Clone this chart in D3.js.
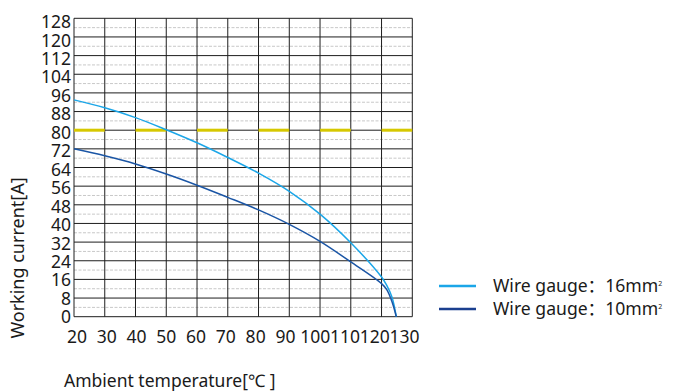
<!DOCTYPE html>
<html><head><meta charset="utf-8">
<script src="https://cdn.jsdelivr.net/npm/d3@7"></script>
<style>
html,body{margin:0;padding:0;background:#fff;}
text{font-family:"Noto Sans","Noto Sans CJK SC",sans-serif;fill:#1a1a1a;}
</style></head>
<body><svg id="c" width="675" height="391"></svg>
<script>
const xTicks = [20,30,40,50,60,70,80,90,100,110,120,130];
const yTicks = [0,8,16,24,32,40,48,56,64,72,80,88,96,104,112,120,128];
const yMinor = [4,12,20,28,36,44,52,60,68,76,84,92,100,108,116,124];
const temp16 = [20,30,40,50,60,70,80,90,100,110,120,121.7,123.4,124.8];
const amp16  = [93,89.6,85.4,80.2,74.6,68.3,61.6,53.8,44,31.7,17,13.4,8.4,0];
const temp10 = [20,30,40,50,60,70,80,90,100,110,120,121.7,123.4,124.8];
const amp10  = [72,69,65.5,61.2,56.4,51.2,45.8,39.6,32.3,23.5,14.2,11.6,6.4,0];
const limitValue = 80;
const limitStarts = [20,40,60,80,100,120];
const limitSpan = 10;
const seriesNames = ["Wire gauge：16mm", "Wire gauge：10mm"];
const xTitle = "Ambient temperature[℃ ]";
const yTitle = "Working current[A]";

const svg = d3.select("#c");
const x = d3.scaleLinear().domain([20,130]).range([74,412.3]);
const y = d3.scaleLinear().domain([0,128]).range([316.7,18.3]);
const xLab = d3.scaleLinear().domain([20,130]).range([76.5,404]);
const yLab = d3.scaleLinear().domain([0,128]).range([316.7,21.5]);

// minor dashed grid
svg.append("g").selectAll("line").data(yMinor).join("line")
  .attr("x1",x(20)).attr("x2",x(130)).attr("y1",d=>y(d)).attr("y2",d=>y(d))
  .attr("stroke","#c8c8c8").attr("stroke-width",1).attr("stroke-dasharray","3,1.5");
// major horizontal
svg.append("g").selectAll("line").data(yTicks).join("line")
  .attr("x1",x(20)).attr("x2",x(130)).attr("y1",d=>y(d)).attr("y2",d=>y(d))
  .attr("stroke","#1e1e1e").attr("stroke-width",1);
// vertical
svg.append("g").selectAll("line").data(xTicks).join("line")
  .attr("x1",d=>x(d)).attr("x2",d=>x(d)).attr("y1",y(0)).attr("y2",y(128))
  .attr("stroke","#1e1e1e").attr("stroke-width",1);

// yellow limit segments
svg.append("g").selectAll("line").data(limitStarts).join("line")
  .attr("x1",d=>x(d)).attr("x2",d=>x(d+limitSpan)).attr("y1",y(limitValue)).attr("y2",y(limitValue))
  .attr("stroke","#d6c800").attr("stroke-width",3);

// curves
const line = d3.line().x(d=>x(d[0])).y(d=>y(d[1])).curve(d3.curveCatmullRom.alpha(0.5));
const s16 = temp16.map((t,i)=>[t,amp16[i]]);
const s10 = temp10.map((t,i)=>[t,amp10[i]]);
const colors = ["#1ba6e8","#1a55a5"];
svg.append("path").datum(s16).attr("d",line).attr("fill","none").attr("stroke",colors[0]).attr("stroke-width",1.5);
svg.append("path").datum(s10).attr("d",line).attr("fill","none").attr("stroke",colors[1]).attr("stroke-width",1.5);

// axis labels
const xa = svg.append("g").attr("transform","translate(0,328)")
  .call(d3.axisBottom(xLab).tickValues(xTicks).tickSize(0).tickFormat(d3.format("d")));
xa.select(".domain").remove();
xa.selectAll("text").attr("font-size",17.5).attr("fill","#1a1a1a").attr("dy","0.71em")
  .style("font-family","'Noto Sans',sans-serif");
const ya = svg.append("g").attr("transform","translate(71,0)")
  .call(d3.axisLeft(yLab).tickValues(yTicks).tickSize(0).tickPadding(0).tickFormat(d3.format("d")));
ya.select(".domain").remove();
ya.selectAll("text").attr("font-size",17.5).attr("fill","#1a1a1a").attr("dy","0.35em")
  .style("font-family","'Noto Sans',sans-serif");

// titles
svg.append("text").attr("x",64).attr("y",387).attr("font-size",17.5).text(xTitle);
svg.append("text").attr("transform","translate(24,258) rotate(-90)").attr("text-anchor","middle")
  .attr("font-size",18).text(yTitle);

// legend
const lg = svg.append("g");
seriesNames.forEach((n,i)=>{
  const yy = 286 + i*23;
  lg.append("line").attr("x1",439).attr("x2",476).attr("y1",yy).attr("y2",yy)
    .attr("stroke", i===0?colors[0]:"#1b3f8f").attr("stroke-width",2.6);
  const t = lg.append("text").attr("x",493).attr("y",yy).attr("dy","0.36em").attr("font-size",17.6);
  t.append("tspan").text(n);
  t.append("tspan").attr("font-size",7).attr("dy","-0.9em").text("2");
});
</script></body></html>
